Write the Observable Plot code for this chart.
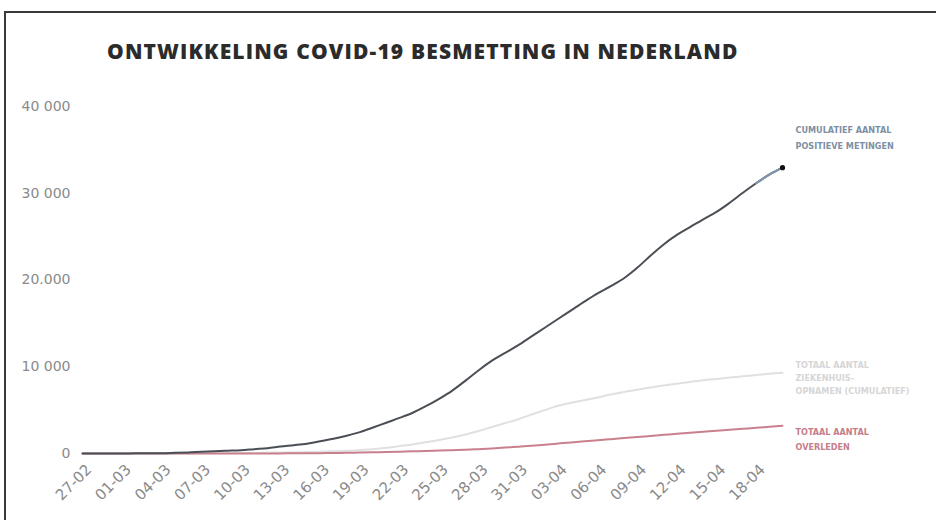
<!DOCTYPE html>
<html>
<head>
<meta charset="utf-8">
<script src="https://cdn.jsdelivr.net/npm/d3@7"></script>
<script src="https://cdn.jsdelivr.net/npm/@observablehq/plot@0.6"></script>
<style>
  html, body { margin: 0; padding: 0; background: #fff; }
  #wrap { position: relative; width: 936px; height: 520px; overflow: hidden; background: #fff; }
  #frame { position: absolute; left: 4px; top: 11px; right: -4px; bottom: -4px; border-left: 2px solid #3a3a3a; border-top: 2px solid #3a3a3a; }
  #title { position: absolute; left: 107px; top: 37px; font-family: "Open Sans", sans-serif; font-weight: 800; font-size: 21px; color: #2b2b2b; letter-spacing: 1.15px; white-space: nowrap; }
  #chart { position: absolute; left: 0; top: 0; }
</style>
</head>
<body>
<div id="wrap">
  <div id="frame"></div>
  <div id="chart"></div>
  <div id="title">ONTWIKKELING COVID-19 BESMETTING IN NEDERLAND</div>
</div>
<script>
// Day labels (2020), 27 Feb to 20 Apr
const days = ["27-02","28-02","29-02","01-03","02-03","03-03","04-03","05-03","06-03","07-03",
  "08-03","09-03","10-03","11-03","12-03","13-03","14-03","15-03","16-03","17-03",
  "18-03","19-03","20-03","21-03","22-03","23-03","24-03","25-03","26-03","27-03",
  "28-03","29-03","30-03","31-03","01-04","02-04","03-04","04-04","05-04","06-04",
  "07-04","08-04","09-04","10-04","11-04","12-04","13-04","14-04","15-04","16-04",
  "17-04","18-04","19-04","20-04"];

// Cumulative positive tests
const positives = [1,2,7,10,18,24,38,82,128,188,
  265,321,382,503,614,804,959,1135,1413,1705,
  2051,2460,2994,3550,4100,4700,5450,6300,7250,8400,
  9600,10700,11600,12500,13500,14500,15500,16500,17500,18450,
  19300,20200,21400,22800,24100,25200,26100,27000,27850,28900,
  30050,31150,32150,32950];

// Cumulative hospital admissions
const hospital = [0,0,0,0,0,0,0,5,10,18,
  25,35,50,70,90,115,140,165,205,250,
  310,400,500,650,850,1050,1300,1550,1850,2200,
  2600,3050,3500,3950,4500,5000,5500,5850,6150,6450,
  6800,7100,7350,7600,7850,8050,8250,8450,8600,8750,
  8900,9050,9200,9300];

// Cumulative deaths
const deaths = [0,0,0,0,0,0,0,0,1,1,
  1,1,4,5,10,12,20,24,43,58,
  76,106,136,170,200,250,300,340,380,430,
  500,580,680,790,900,1020,1150,1280,1400,1520,
  1650,1780,1900,2030,2150,2270,2400,2520,2630,2740,
  2850,2960,3080,3200];

const xTickLabels = ["27-02","01-03","04-03","07-03","10-03","13-03","16-03","19-03","22-03",
  "25-03","28-03","31-03","03-04","06-04","09-04","12-04","15-04","18-04"];
const yTicks = [0, 10000, 20000, 30000, 40000];
const yTickLabels = ["0", "10 000", "20.000", "30 000", "40 000"];

const seriesLabels = {
  pos: "CUMULATIEF AANTAL\nPOSITIEVE METINGEN",
  hosp: "TOTAAL AANTAL\nZIEKENHUIS-\nOPNAMEN (CUMULATIEF)",
  deaths: "TOTAAL AANTAL\nOVERLEDEN"
};

const parse = s => d3.utcParse("%d-%m-%Y")(s + "-2020");
const rows = days.map((d, i) => ({date: parse(d), pos: positives[i], hosp: hospital[i], deaths: deaths[i]}));
const last = rows[rows.length - 1];
const tail = rows.slice(-3);

const labelFont = {fontFamily: "DejaVu Sans Condensed, DejaVu Sans", fontWeight: "bold", fontSize: 9, letterSpacing: 1.1, textAnchor: "start"};

const chart = Plot.plot({
  width: 936,
  height: 520,
  marginLeft: 82,
  marginRight: 154,
  marginTop: 106,
  marginBottom: 67,
  style: {background: "transparent", overflow: "visible"},
  x: {type: "utc", domain: [rows[0].date, last.date], axis: null},
  y: {domain: [0, 40000], axis: null},
  marks: [
    Plot.text(yTicks, {y: d => d, text: (d, i) => yTickLabels[i], frameAnchor: "left", textAnchor: "end", dx: -12,
      fill: "#8a8a8a", fontSize: 14, fontFamily: "DejaVu Sans", letterSpacing: 1.6}),
    Plot.text(xTickLabels, {x: d => parse(d), text: d => d, frameAnchor: "bottom", rotate: -45, textAnchor: "end",
      dx: 10, dy: 17, fill: "#8a8a8a", fontSize: 15, fontFamily: "DejaVu Sans", letterSpacing: 0.6}),
    Plot.line(rows, {x: "date", y: "hosp", stroke: "#e0e0e0", strokeWidth: 2, curve: "monotone-x"}),
    Plot.line(rows, {x: "date", y: "deaths", stroke: "#c9808d", strokeWidth: 2, curve: "monotone-x"}),
    Plot.line(rows, {x: "date", y: "pos", stroke: "#4a4f56", strokeWidth: 2, curve: "monotone-x"}),
    Plot.line(tail, {x: "date", y: "pos", stroke: "#7f96ad", strokeWidth: 2, curve: "monotone-x"}),
    Plot.dot([last], {x: "date", y: "pos", r: 2.6, fill: "#111"}),
    Plot.text([last], {x: "date", y: "pos", text: () => seriesLabels.pos, dx: 13, dy: -46, lineAnchor: "top",
      lineHeight: 1.75, fill: "#7d8fa3", ...labelFont}),
    Plot.text([last], {x: "date", y: "hosp", text: () => seriesLabels.hosp, dx: 13, dy: 4, lineAnchor: "middle",
      lineHeight: 1.45, fill: "#d6d6d6", ...labelFont}),
    Plot.text([last], {x: "date", y: "deaths", text: () => seriesLabels.deaths, dx: 13, dy: 12, lineAnchor: "middle",
      lineHeight: 1.65, fill: "#c67d8a", ...labelFont})
  ]
});
document.getElementById("chart").appendChild(chart);
</script>
</body>
</html>
